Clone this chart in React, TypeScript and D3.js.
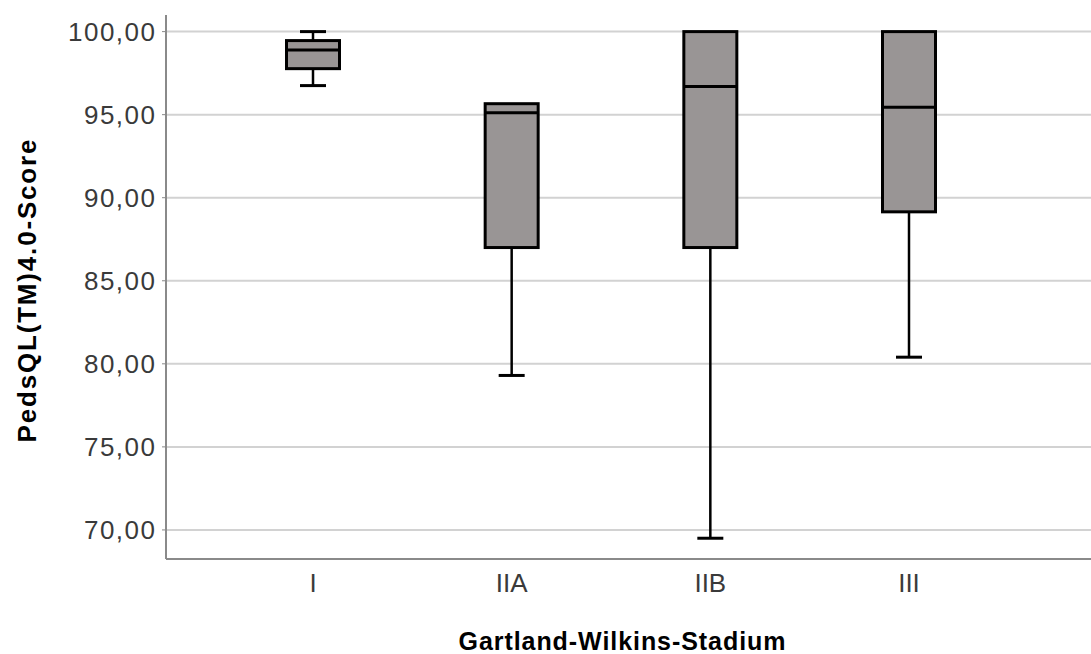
import React from "react";
import * as d3 from "d3";

const categories = ["I", "IIA", "IIB", "III"];
const whiskerLow = [96.75, 79.3, 69.5, 80.4];
const q1 = [97.77, 87.0, 87.0, 89.15];
const medians = [98.9, 95.12, 96.7, 95.45];
const q3 = [99.46, 95.66, 100.0, 100.0];
const whiskerHigh = [100.0, 95.66, 100.0, 100.0];
const yTicks = [70, 75, 80, 85, 90, 95, 100];

const W = 1091;
const H = 654;

export default function App() {
  const y = d3.scaleLinear().domain([68.25, 101.0]).range([559, 15]);
  const x = d3.scaleLinear().domain([0, 3]).range([313, 909]);
  const left = 166;
  const right = 1091;
  const boxW = 53;
  const capW = 26;
  const fmt = (v: number) => d3.format(".2f")(v).replace(".", ",");
  const font = "'Liberation Sans', Arial, sans-serif";

  return (
    <svg width={W} height={H} style={{ position: "absolute", left: 0, top: 0, background: "#fff" }} fontFamily={font}>
      {yTicks.map((t) => (
        <g key={t}>
          <line x1={left} x2={right} y1={y(t)} y2={y(t)} stroke="#d2d2d2" strokeWidth={2} />
          <line x1={left - 4} x2={left} y1={y(t)} y2={y(t)} stroke="#888" strokeWidth={1} />
          <text x={156.5} y={y(t)} dy="0.36em" textAnchor="end" fontSize={26} letterSpacing={1.5} fill="#3a3a3a">
            {fmt(t)}
          </text>
        </g>
      ))}
      <line x1={left} x2={left} y1={15} y2={559} stroke="#8a8a8a" strokeWidth={2} />
      <line x1={left} x2={right} y1={559} y2={559} stroke="#8a8a8a" strokeWidth={2} />
      {categories.map((c, i) => {
        const cx = x(i);
        return (
          <g key={c}>
            <line x1={cx} x2={cx} y1={y(q1[i])} y2={y(whiskerLow[i])} stroke="#000" strokeWidth={2.5} />
            <line x1={cx - capW / 2} x2={cx + capW / 2} y1={y(whiskerLow[i])} y2={y(whiskerLow[i])} stroke="#000" strokeWidth={3} />
            {whiskerHigh[i] > q3[i] && (
              <>
                <line x1={cx} x2={cx} y1={y(q3[i])} y2={y(whiskerHigh[i])} stroke="#000" strokeWidth={2.5} />
                <line x1={cx - capW / 2} x2={cx + capW / 2} y1={y(whiskerHigh[i])} y2={y(whiskerHigh[i])} stroke="#000" strokeWidth={3} />
              </>
            )}
            <rect x={cx - boxW / 2} y={y(q3[i])} width={boxW} height={y(q1[i]) - y(q3[i])} fill="#999595" stroke="#000" strokeWidth={3} />
            <line x1={cx - boxW / 2} x2={cx + boxW / 2} y1={y(medians[i])} y2={y(medians[i])} stroke="#000" strokeWidth={3} />
            <text x={cx} y={583} dy="0.36em" textAnchor="middle" fontSize={26} fill="#3a3a3a">
              {c}
            </text>
          </g>
        );
      })}
      <text x={622} y={641} dy="0.36em" textAnchor="middle" fontSize={25} fontWeight="bold" fill="#000" textLength={327} lengthAdjust="spacing">
        Gartland-Wilkins-Stadium
      </text>
      <text transform={`translate(27,${291}) rotate(-90)`} dy="0.36em" textAnchor="middle" fontSize={26} fontWeight="bold" fill="#000" textLength={303} lengthAdjust="spacing">
        PedsQL(TM)4.0-Score
      </text>
    </svg>
  );
}
